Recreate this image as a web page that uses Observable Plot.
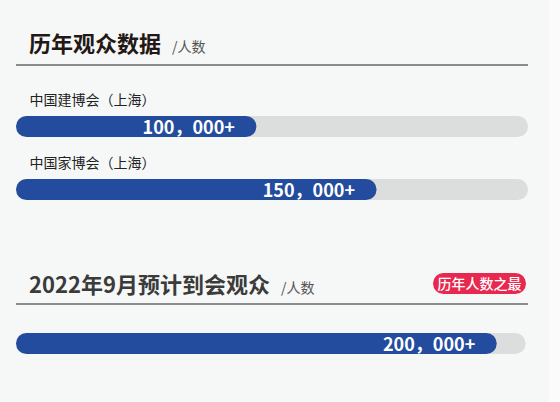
<!DOCTYPE html>
<html><head><meta charset="utf-8">
<script src="https://cdn.jsdelivr.net/npm/d3@7"></script>
<script src="https://cdn.jsdelivr.net/npm/@observablehq/plot@0.6"></script>
<style>
body{margin:0;background:#f6f7f7;font-family:"Noto Sans CJK SC","Noto Sans",sans-serif;}
#wrap{position:relative;width:560px;height:402px;overflow:hidden;background:#f6f7f7;}
#strip{position:absolute;left:549px;top:0;width:11px;height:402px;background:#fbfbfb;}
.title{position:absolute;left:29px;font-weight:700;font-size:22px;line-height:22px;white-space:nowrap;}
.unit{font-size:14px;font-weight:400;color:#555;margin-left:11px;}
.rule{position:absolute;left:16px;width:512px;height:0;border-top:2px solid #8c8c8c;}
.badge{position:absolute;left:433px;top:273px;width:93px;height:21px;line-height:21px;border-radius:10.5px;background:#e8294f;color:#fff;font-size:14px;font-weight:500;text-align:center;}
.chart{position:absolute;left:0;}
</style>
</head><body>
<div id="wrap">
  <div id="strip"></div>
  <div class="title" id="t1" style="top:31px;color:#231815"></div>
  <div class="rule" style="top:64px"></div>
  <div class="chart" id="c1" style="top:74.5px"></div>
  <div class="title" id="t2" style="top:272px;color:#3b3b3b"></div>
  <div class="badge" id="badge"></div>
  <div class="rule" style="top:303px"></div>
  <div class="chart" id="c2" style="top:312px"></div>
</div>
<script>
const title1 = "历年观众数据";
const title2 = "2022年9月预计到会观众";
const unitLabel = "/人数";
const badgeLabel = "历年人数之最";

const categories1 = ["中国建博会（上海）", "中国家博会（上海）"];
const values1 = [100000, 150000];

const categories2 = ["2022年9月预计到会观众"];
const values2 = [200000];

const xMax = 213000;       // full track capacity, section 1
const trackMax2 = 212000;  // full track capacity, section 2

const fmt = v => d3.format(",")(v).replace(/,/g, "，") + "+";

document.getElementById("t1").innerHTML = title1 + `<span class="unit">${unitLabel}</span>`;
document.getElementById("t2").innerHTML = title2 + `<span class="unit">${unitLabel}</span>`;
document.getElementById("badge").textContent = badgeLabel;

const blue = "#234c9e", track = "#dcdddd";

function chart(cats, vals, trackVal, showLabels) {
  const rows = cats.map((c, i) => ({cat: c, value: vals[i], full: trackVal}));
  const top = showLabels ? 20 : 0;
  return Plot.plot({
    width: 560,
    height: 63 * cats.length + top,
    marginLeft: 16, marginRight: 32, marginTop: top, marginBottom: 0,
    style: {background: "transparent", fontFamily: '"Noto Sans CJK SC", "Noto Sans", sans-serif', overflow: "visible"},
    x: {domain: [0, xMax], axis: null},
    y: {domain: cats, axis: null, padding: 0},
    marks: [
      Plot.barX(rows, {x: "full", y: "cat", fill: track, insetTop: 21, insetBottom: 21, rx: 10.5}),
      Plot.barX(rows, {x: "value", y: "cat", fill: blue, insetTop: 21, insetBottom: 21, rx: 10.5}),
      Plot.text(rows, {x: "value", y: "cat", text: d => fmt(d.value), textAnchor: "end", dx: -22, dy: 1,
        fill: "white", fontWeight: "bold", fontSize: 18, style: "letter-spacing:0.5px"}),
      showLabels ? Plot.text(rows, {x: () => 0, y: "cat", text: "cat", textAnchor: "start", dx: 13, dy: -26,
        fill: "#222", fontSize: 14}) : null
    ]
  });
}

document.getElementById("c1").append(chart(categories1, values1, xMax, true));
document.getElementById("c2").append(chart(categories2, values2, trackMax2, false));
</script>
</body></html>
